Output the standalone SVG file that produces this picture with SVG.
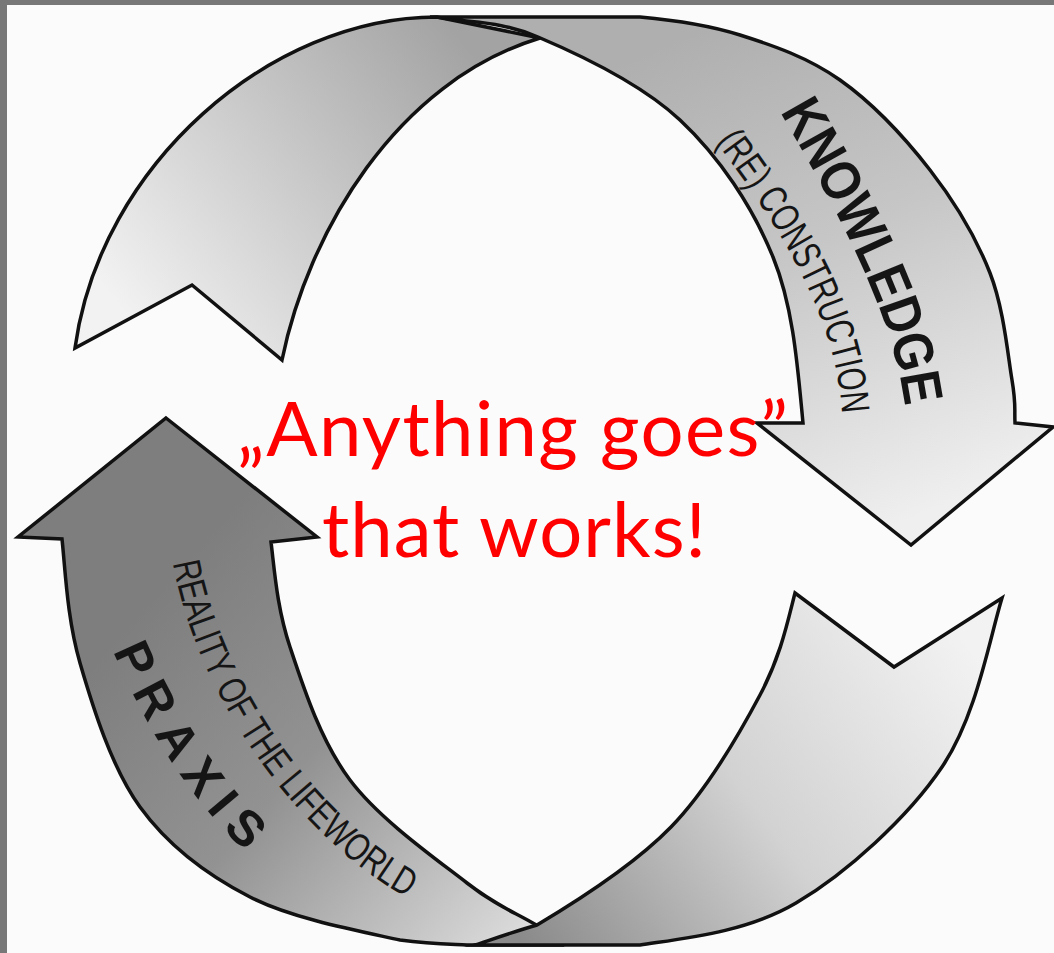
<svg xmlns="http://www.w3.org/2000/svg" width="1054" height="953" viewBox="0 0 1054 953">
<style>
.band{stroke:#111;stroke-width:3.5;stroke-linejoin:miter;stroke-miterlimit:10}
.title{font-family:"Liberation Sans",Arial,sans-serif;font-weight:bold;fill:#151515}
.sub{font-family:"Liberation Sans",Arial,sans-serif;fill:#151515}
.motto{font-family:Lato,"Open Sans",sans-serif;fill:#ff0000;font-size:76px}
</style>
<defs>
<linearGradient id="gA" gradientUnits="userSpaceOnUse" x1="130" y1="320" x2="470" y2="50">
<stop offset="0" stop-color="#f2f2f2"/><stop offset="1" stop-color="#a3a3a3"/>
</linearGradient>
<linearGradient id="gB" gradientUnits="userSpaceOnUse" x1="700" y1="30" x2="910" y2="520">
<stop offset="0" stop-color="#afafaf"/><stop offset="0.45" stop-color="#c6c6c6"/><stop offset="1" stop-color="#efefef"/>
</linearGradient>
<linearGradient id="gC" gradientUnits="userSpaceOnUse" x1="150" y1="600" x2="520" y2="930">
<stop offset="0" stop-color="#7e7e7e"/><stop offset="0.45" stop-color="#929292"/><stop offset="1" stop-color="#dadada"/>
</linearGradient>
<linearGradient id="gD" gradientUnits="userSpaceOnUse" x1="950" y1="620" x2="520" y2="940">
<stop offset="0" stop-color="#f2f2f2"/><stop offset="0.5" stop-color="#d2d2d2"/><stop offset="1" stop-color="#8a8a8a"/>
</linearGradient>
<path id="tpKnow" d="M780,112 C830,199 893,308 905,407 L911,459"/>
<path id="tpRe" d="M716,142 C776,222 837,315 842,415 L846,470"/>
<path id="tpPraxis" d="M113,651 C145,725 187,796 245,851 L290,890"/>
<path id="tpReal" d="M173,563 C195,688 290,833 409,899 L460,929"/>
</defs>
<rect width="1054" height="953" fill="#fbfbfb"/>
<rect x="0" y="0" width="1054" height="5" fill="#787878"/>
<rect x="0" y="0" width="7" height="953" fill="#787878"/>

<g id="band-upper-left">
<path class="band" fill="url(#gA)" d="M75,348 C100,165 270,17 437,17 L540,38 C395.5,82 308,233 282,360 L192,285 Z"/>
</g>

<g id="knowledge-arrow">
<path class="band" fill="url(#gB)" d="M430,17 L640,17 C673.3,20 706.7,24.5 740,35 C773.3,45.5 808.3,57.5 840,80 C871.7,102.5 905,137.8 930,170 C955,202.2 976.3,238 990,273 C1003.7,308 1007.8,355 1012,380 C1016.2,405 1014.3,408 1015,423 L1053,427 L911,545 L757,423 L803,423 C797.7,367.7 793.5,307.5 773,257 C752.5,206.5 719.2,156.7 680,120 C640.8,83.3 578.5,54.2 538,37 C497.5,19.8 470.7,23.7 437,17 Z"/>
<text class="title" font-size="56"><textPath href="#tpKnow" textLength="322" lengthAdjust="spacingAndGlyphs">KNOWLEDGE</textPath></text>
<text class="sub" font-size="40"><textPath href="#tpRe" textLength="304" lengthAdjust="spacingAndGlyphs">(RE) CONSTRUCTION</textPath></text>
</g>

<g id="praxis-arrow">
<path class="band" fill="url(#gC)" d="M166,418 L317,537 L271,542 C274.5,569.8 276.8,607.3 290,647 C303.2,686.7 320.5,740.7 350,780 C379.5,819.3 435.7,858.7 467,883 C498.3,907.3 514.3,911.7 538,926 L560,945 L467,945 C445.3,944 430,944 400,940 C363.8,932 293.3,919.2 250,897 C206.7,874.8 168.3,846 140,807 C111.7,768 93,707.7 80,663 C67,618.3 65.3,569.5 62,539 L18,537 Z"/>
<text class="sub" font-size="39"><textPath href="#tpReal" textLength="420" lengthAdjust="spacingAndGlyphs">REALITY OF THE LIFEWORLD</textPath></text>
<text class="title" font-size="50"><textPath href="#tpPraxis" textLength="242" lengthAdjust="spacing">PRAXIS</textPath></text>
</g>

<g id="band-lower-right">
<path class="band" fill="url(#gD)" d="M795,593 L894,667 L1002,598 C989,640.8 976.3,716.2 942,767 C907.7,817.8 846.3,873.3 796,903 C745.7,932.7 682.7,938.5 640,945 L475,945 C496,938 516,931 537,925 C569.7,905.5 633.8,865.3 671,827 C708.2,788.7 739.3,734 760,695 C780.7,656 787.5,622.2 795,593 Z"/>
</g>

<g id="motto">
<text class="motto" x="237" y="456" textLength="551" lengthAdjust="spacing">„Anything goes”</text>
<text class="motto" x="322" y="557" textLength="384" lengthAdjust="spacing">that works!</text>
</g>
</svg>
